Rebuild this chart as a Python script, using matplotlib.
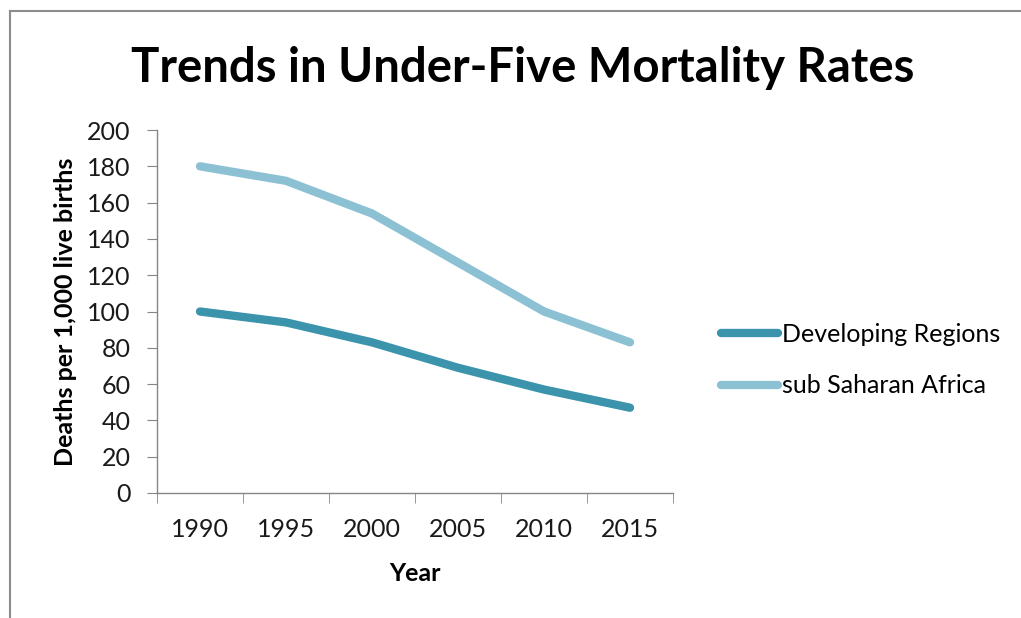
import matplotlib
matplotlib.use("Agg")
import matplotlib.pyplot as plt
from matplotlib.lines import Line2D

years = ["1990", "1995", "2000", "2005", "2010", "2015"]
developing = [100, 94, 83, 69, 57, 47]
sub_saharan = [180, 172, 154, 127, 100, 83]

plt.rcParams['font.family'] = ['Lato', 'DejaVu Sans']
axis_grey = '#868686'

fig = plt.figure(figsize=(10.21, 6.18), dpi=100)
ax = fig.add_axes([157 / 1021, 1 - 493 / 618, (673 - 157) / 1021, (493 - 130) / 618])

x = list(range(len(years)))
ax.plot(x, developing, color='#3b93ac', lw=6, solid_capstyle='round', label='Developing Regions')
ax.plot(x, sub_saharan, color='#8cc1d4', lw=6, solid_capstyle='round', label='sub Saharan Africa')

ax.set_xlim(-0.5, len(years) - 0.5)
ax.set_ylim(0, 200)
ax.set_yticks(range(0, 201, 20))
ax.set_xticks(x)
ax.set_xticklabels(years)
ax.set_xticks([i - 0.5 for i in range(len(years) + 1)], minor=True)
ax.tick_params(axis='x', which='major', length=0, pad=18, labelsize=18, labelcolor='#1a1a1a')
ax.tick_params(axis='x', which='minor', length=7, color=axis_grey, direction='out')
ax.tick_params(axis='y', length=7, color=axis_grey, pad=12, labelsize=18, labelcolor='#1a1a1a')

for side in ['top', 'right']:
    ax.spines[side].set_visible(False)
for side in ['left', 'bottom']:
    ax.spines[side].set_color(axis_grey)
    ax.spines[side].set_linewidth(1)

ax.set_xlabel('Year', fontsize=18, fontweight='bold', labelpad=15)
ax.set_ylabel('Deaths per 1,000 live births', fontsize=18, fontweight='bold', labelpad=7)

fig.text(523 / 1021, 1 - 68 / 618, 'Trends in Under-Five Mortality Rates',
         fontsize=34, fontweight='bold', ha='center', va='center')

ax.legend(loc='center left', bbox_to_anchor=(698 / 1021, 1 - 360 / 618),
          bbox_transform=fig.transFigure, frameon=False, fontsize=18,
          handlelength=2.3, handletextpad=0.15, labelspacing=1.15)

# outer chart border (top and left only visible)
fig.add_artist(Line2D([10 / 1021, 1], [1 - 11 / 618, 1 - 11 / 618], color='#8c8c8c', lw=1.5))
fig.add_artist(Line2D([10 / 1021, 10 / 1021], [0, 1 - 11 / 618], color='#8c8c8c', lw=1.5))

fig.savefig('out.png', dpi=100)
